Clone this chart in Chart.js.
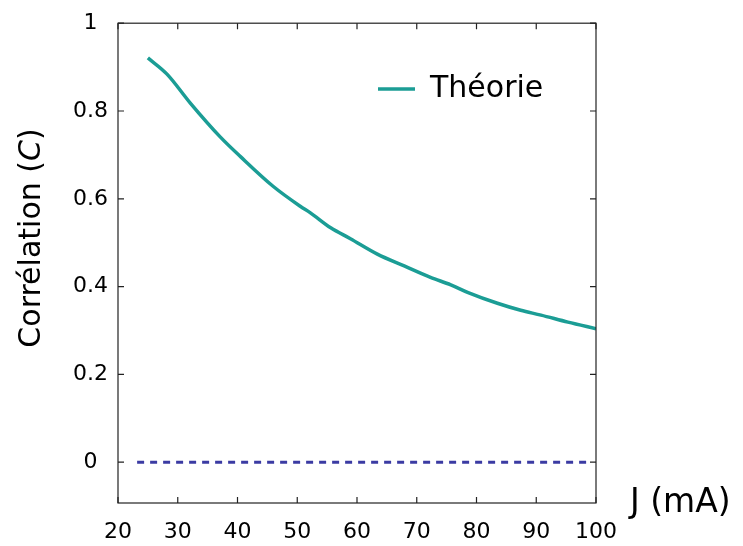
<!DOCTYPE html>
<html>
<head>
<meta charset="utf-8">
<script src="https://cdn.jsdelivr.net/npm/chart.js@4/dist/chart.umd.min.js"></script>
<style>
  html, body { margin: 0; padding: 0; background: #fff; }
  canvas { display: block; }
</style>
</head>
<body>
<canvas id="corr" width="743" height="546"></canvas>
<script>
// current J (mA) and theoretical correlation
const currentJ = [25, 28.2, 32.1, 37.1, 40.5, 46, 50.5, 52.2, 55.6, 58.9, 63.4, 67.9, 72.3, 75.7, 78.5, 83.5, 87.4, 90.8, 95.3, 100];
const theoryC = [0.921, 0.884, 0.818, 0.741, 0.696, 0.628, 0.583, 0.568, 0.534, 0.509, 0.474, 0.447, 0.421, 0.404, 0.387, 0.362, 0.346, 0.335, 0.319, 0.304];

// dashed reference line at zero
const zeroJ = [23.2, 98.7];
const zeroC = [0, 0];

const xTicks = [20, 30, 40, 50, 60, 70, 80, 90, 100];
const yTicks = [0, 0.2, 0.4, 0.6, 0.8, 1];

const FONT = 'DejaVu Sans';
const TEAL = '#1b9d95';
const NAVY = '#3b3ba3';

function toPoints(xs, ys) {
  return xs.map((x, i) => ({ x: x, y: ys[i] }));
}

// move the legend inside the plot, upper right
const legendSpot = {
  id: 'legendSpot',
  beforeDraw(chart) {
    const lg = chart.legend;
    if (!lg) return;
    const w = lg.width, h = lg.height;
    lg.left = 368; lg.top = 64;
    lg.right = lg.left + w; lg.bottom = lg.top + h;
  }
};

// frame, inward ticks on every side, axis titles
const frame = {
  id: 'frame',
  afterDraw(chart) {
    const { ctx, chartArea: a, scales } = chart;
    ctx.save();
    ctx.strokeStyle = '#222';
    ctx.lineWidth = 1.2;
    ctx.strokeRect(a.left, a.top, a.right - a.left, a.bottom - a.top);

    const len = 6;
    ctx.beginPath();
    xTicks.forEach(v => {
      const px = scales.x.getPixelForValue(v);
      ctx.moveTo(px, a.bottom); ctx.lineTo(px, a.bottom - len);
      ctx.moveTo(px, a.top); ctx.lineTo(px, a.top + len);
    });
    yTicks.forEach(v => {
      const py = scales.y.getPixelForValue(v);
      ctx.moveTo(a.left, py); ctx.lineTo(a.left + len, py);
      ctx.moveTo(a.right, py); ctx.lineTo(a.right - len, py);
    });
    ctx.stroke();

    ctx.fillStyle = '#000';
    ctx.textBaseline = 'middle';

    // x title to the right of the axis end
    ctx.font = '33px "' + FONT + '"';
    ctx.textAlign = 'left';
    ctx.fillText('J (mA)', a.right + 34, a.bottom);

    // y title, rotated, with italic C
    const parts = [
      ['Corrélation (', '30px "' + FONT + '"'],
      ['C', 'italic 30px "' + FONT + '"'],
      [')', '30px "' + FONT + '"']
    ];
    let total = 0;
    parts.forEach(p => { ctx.font = p[1]; total += ctx.measureText(p[0]).width; });
    ctx.translate(32, 238);
    ctx.rotate(-Math.PI / 2);
    let cx = -total / 2;
    parts.forEach(p => {
      ctx.font = p[1];
      ctx.fillText(p[0], cx, 0);
      cx += ctx.measureText(p[0]).width;
    });
    ctx.restore();
  }
};

new Chart(document.getElementById('corr'), {
  type: 'line',
  data: {
    datasets: [
      {
        label: 'Théorie',
        data: toPoints(currentJ, theoryC),
        borderColor: TEAL,
        backgroundColor: TEAL,
        borderWidth: 3.5,
        pointRadius: 0,
        cubicInterpolationMode: 'monotone'
      },
      {
        label: 'zero',
        data: toPoints(zeroJ, zeroC),
        borderColor: NAVY,
        borderWidth: 3,
        borderDash: [7, 6],
        pointRadius: 0
      }
    ]
  },
  options: {
    responsive: false,
    animation: false,
    devicePixelRatio: 1,
    layout: { padding: { top: 19, right: 147, left: 0, bottom: 0 } },
    plugins: {
      tooltip: { enabled: false },
      legend: {
        position: 'chartArea',
        align: 'start',
        labels: {
          filter: item => item.text === 'Théorie',
          usePointStyle: true,
          pointStyle: 'line',
          pointStyleWidth: 37,
          boxHeight: 4,
          padding: 10,
          color: '#000',
          font: { family: FONT, size: 30 }
        }
      }
    },
    scales: {
      x: {
        type: 'linear',
        min: 20,
        max: 100,
        afterBuildTicks: s => { s.ticks = xTicks.map(v => ({ value: v })); },
        afterFit: s => { s.height = 43; },
        grid: { display: false, drawTicks: false },
        border: { display: false },
        ticks: {
          padding: 16,
          color: '#000',
          font: { family: FONT, size: 22 },
          maxRotation: 0,
          callback: v => String(v)
        }
      },
      y: {
        type: 'linear',
        min: -0.093,
        max: 1,
        afterBuildTicks: s => { s.ticks = yTicks.map(v => ({ value: v })); },
        afterFit: s => { s.width = 118; },
        grid: { display: false, drawTicks: false },
        border: { display: false },
        ticks: {
          padding: 10,
          crossAlign: 'center',
          color: '#000',
          font: { family: FONT, size: 22 },
          callback: v => String(v)
        }
      }
    }
  },
  plugins: [legendSpot, frame]
});
</script>
</body>
</html>
